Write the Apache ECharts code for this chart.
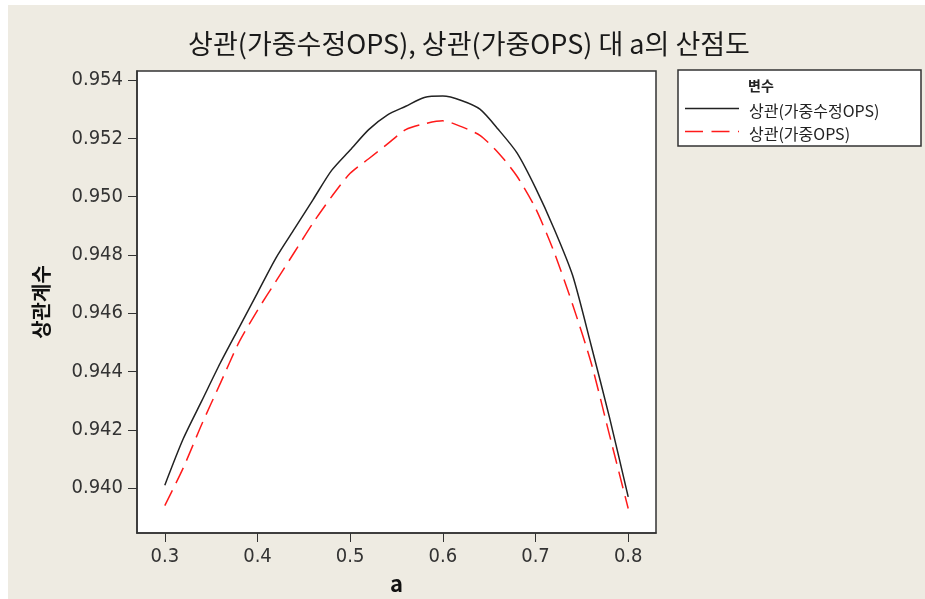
<!DOCTYPE html>
<html>
<head>
<meta charset="utf-8">
<script src="https://cdn.jsdelivr.net/npm/echarts@6/dist/echarts.min.js"></script>
<style>
html, body { margin: 0; padding: 0; background: #fff; }
#chart { width: 925px; height: 599px; }
</style>
</head>
<body>
<div id="chart"></div>
<script>
// a 값
const aValues = [0.30, 0.32, 0.34, 0.36, 0.38, 0.40, 0.42, 0.44, 0.46, 0.48, 0.50, 0.52, 0.54,
    0.56, 0.58, 0.60, 0.62, 0.64, 0.66, 0.68, 0.70, 0.72, 0.74, 0.76, 0.78, 0.80];
// 상관(가중수정OPS)
const corrAdjOps = [0.9401, 0.9417, 0.9430, 0.9443, 0.9455, 0.9467, 0.9479, 0.9489, 0.9499, 0.9509,
    0.9516, 0.9523, 0.9528, 0.9531, 0.9534, 0.95345, 0.9533, 0.9530, 0.9523, 0.9515,
    0.9503, 0.9489, 0.9473, 0.9449, 0.9424, 0.9397];
// 상관(가중OPS)
const corrOps = [0.9394, 0.9407, 0.9422, 0.9436, 0.9450, 0.9461, 0.9471, 0.9481, 0.9491, 0.9500,
    0.9508, 0.9513, 0.9518, 0.9523, 0.9525, 0.9526, 0.9524, 0.9521, 0.9515, 0.9507,
    0.9496, 0.9481, 0.9463, 0.9443, 0.9418, 0.9393];
const xTicks = [0.3, 0.4, 0.5, 0.6, 0.7, 0.8];
const yTicks = [0.940, 0.942, 0.944, 0.946, 0.948, 0.950, 0.952, 0.954];

const seriesNames = ['상관(가중수정OPS)', '상관(가중OPS)'];
const kr = '"Noto Sans CJK KR", sans-serif';
const num = '"DejaVu Sans Condensed", "DejaVu Sans", sans-serif';
const blackLine = { color: '#222', width: 1.5 };
const redLine = { color: '#ff1a1a', width: 1.5, dash: [18, 8.5] };

const chart = echarts.init(document.getElementById('chart'));
const option = {
    backgroundColor: '#eeebe2',
    animation: false,
    title: {
        text: '상관(가중수정OPS), 상관(가중OPS) 대 a의 산점도',
        left: 469,
        top: 30,
        padding: 0,
        textAlign: 'center',
        textStyle: { fontFamily: kr, fontSize: 27, fontWeight: 'normal', color: '#1a1a1a' }
    },
    graphic: [
        // 왼쪽/위쪽 흰 여백
        { type: 'rect', left: 0, top: 0, shape: { width: 8, height: 599 }, style: { fill: '#fff' } },
        { type: 'rect', left: 0, top: 0, shape: { width: 925, height: 5 }, style: { fill: '#fff' } },
        // 범례 상자
        {
            type: 'rect', x: 678, y: 70, z: 1,
            shape: { width: 243, height: 76 },
            style: { fill: '#fff', stroke: '#333', lineWidth: 1.5 }
        },
        {
            type: 'text', x: 748, y: 86, z: 2,
            style: { text: '변수', font: 'bold 14px "Noto Sans CJK KR"', fill: '#222', verticalAlign: 'middle' }
        },
        {
            type: 'line', z: 2,
            shape: { x1: 685, y1: 108.5, x2: 739, y2: 108.5 },
            style: { stroke: blackLine.color, lineWidth: blackLine.width }
        },
        {
            type: 'text', x: 749, y: 110.5, z: 2,
            style: { text: seriesNames[0], font: '16px "Noto Sans CJK KR"', fill: '#222', verticalAlign: 'middle' }
        },
        {
            type: 'line', z: 2,
            shape: { x1: 685, y1: 131.5, x2: 739, y2: 131.5 },
            style: { stroke: redLine.color, lineWidth: redLine.width, lineDash: redLine.dash }
        },
        {
            type: 'text', x: 749, y: 133.5, z: 2,
            style: { text: seriesNames[1], font: '16px "Noto Sans CJK KR"', fill: '#222', verticalAlign: 'middle' }
        }
    ],
    grid: {
        left: 137,
        right: 269,
        top: 71,
        bottom: 66,
        show: true,
        backgroundColor: '#fff',
        borderColor: '#333',
        borderWidth: 1.5,
        outerBoundsMode: 'none'
    },
    xAxis: {
        type: 'value',
        min: 0.27,
        max: 0.83,
        name: 'a',
        nameLocation: 'middle',
        nameGap: 40,
        nameTextStyle: { fontFamily: kr, fontSize: 22, fontWeight: 'bold', color: '#111' },
        axisLine: { show: true, lineStyle: { color: '#333', width: 1.5 } },
        axisTick: { show: true, length: 9, customValues: xTicks, lineStyle: { color: '#333' } },
        axisLabel: {
            customValues: xTicks,
            margin: 14,
            fontFamily: num,
            fontSize: 20,
            color: '#333',
            formatter: v => v.toFixed(1)
        },
        splitLine: { show: false }
    },
    yAxis: {
        type: 'value',
        min: 0.93846,
        max: 0.95431,
        name: '상관계수',
        nameLocation: 'middle',
        nameGap: 86,
        nameRotate: 90,
        nameTextStyle: { fontFamily: kr, fontSize: 20, fontWeight: 'bold', color: '#111' },
        axisLine: { show: true, lineStyle: { color: '#333', width: 1.5 } },
        axisTick: { show: true, length: 9, customValues: yTicks, lineStyle: { color: '#333' } },
        axisLabel: {
            customValues: yTicks,
            margin: 14,
            fontFamily: num,
            fontSize: 20,
            color: '#333',
            formatter: v => v.toFixed(3)
        },
        splitLine: { show: false }
    },
    series: [
        {
            name: seriesNames[0],
            type: 'line',
            symbol: 'none',
            smooth: 0.25,
            data: aValues.map((a, i) => [a, corrAdjOps[i]]),
            lineStyle: { color: blackLine.color, width: blackLine.width }
        },
        {
            name: seriesNames[1],
            type: 'line',
            symbol: 'none',
            smooth: 0.25,
            data: aValues.map((a, i) => [a, corrOps[i]]),
            lineStyle: { color: redLine.color, width: redLine.width, type: [17, 8] }
        }
    ]
};
chart.setOption(option);
</script>
</body>
</html>
